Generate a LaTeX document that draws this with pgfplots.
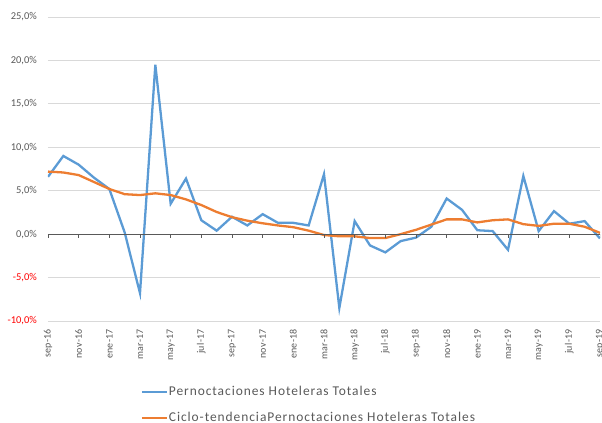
\documentclass[border=0pt]{standalone}
\usepackage{pgfplots}
\pgfplotsset{compat=1.18}
\usepackage{fontspec}
\setmainfont{Carlito}
\newfontfamily\legfont[LetterSpace=7]{Carlito}
\newfontfamily\tickfont[LetterSpace=3]{Carlito}
\definecolor{cblue}{HTML}{5B9BD5}
\definecolor{corange}{HTML}{ED7D31}
\definecolor{tickgray}{HTML}{595959}
\definecolor{gridgray}{HTML}{D9D9D9}
\definecolor{negred}{HTML}{FF0000}

\pgfplotstableread{
i serie tend
0  6.6  7.2
1  9.0  7.1
2  8.0  6.8
3  6.5  6.0
4  5.2  5.2
5  0.2  4.6
6  -6.8 4.5
7  19.5 4.7
8  3.5  4.5
9  6.4  4.0
10 1.6  3.35
11 0.4  2.55
12 2.0  1.95
13 1.0  1.55
14 2.3  1.25
15 1.3  1.0
16 1.3  0.8
17 1.0  0.4
18 6.9  -0.1
19 -8.5 -0.25
20 1.5  -0.25
21 -1.3 -0.45
22 -2.1 -0.45
23 -0.8 0.0
24 -0.4 0.5
25 0.85 1.1
26 4.1  1.7
27 2.8  1.7
28 0.45 1.35
29 0.35 1.6
30 -1.8 1.7
31 6.7  1.15
32 0.35 0.95
33 2.65 1.2
34 1.2  1.2
35 1.5  0.85
36 -0.5 0.15
}\datatable

\begin{document}
\begin{tikzpicture}
\begin{axis}[
  scale only axis,
  width=552bp, height=304bp,
  xmin=0, xmax=36, ymin=-10, ymax=25,
  axis line style={draw=none},
  xtick={0,2,...,36},
  xticklabels={sep-16,nov-16,ene-17,mar-17,may-17,jul-17,sep-17,nov-17,ene-18,mar-18,may-18,jul-18,sep-18,nov-18,ene-19,mar-19,may-19,jul-19,sep-19},
  ytick={-10,-5,0,5,10,15,20,25},
  yticklabels={{\textcolor{negred}{-10,0\%}},{\textcolor{negred}{-5,0\%}},{0,0\%},{5,0\%},{10,0\%},{15,0\%},{20,0\%},{25,0\%}},
  major tick length=0pt,
  ymajorgrids, grid style={gridgray, line width=0.9pt},
  xticklabel style={rotate=90, anchor=east, font=\tickfont\fontsize{10}{12}\selectfont, text=tickgray, inner sep=0pt},
  yticklabel style={anchor=east, font=\fontsize{10.5}{12}\selectfont, text=tickgray, inner sep=0pt},
  xticklabel shift=8bp,
  yticklabel shift=11bp,
  legend style={draw=none, fill=none, at={(0.162,-0.205)}, anchor=north west,
    font=\legfont\fontsize{13.5}{15}\selectfont, text=tickgray,
    row sep=13bp, nodes={inner sep=1bp}},
  legend cell align=left,
  legend image code/.code={\draw[#1] (0bp,0bp) -- (25bp,0bp);},
]
\addplot[cblue, line width=2.3pt] table[x=i, y=serie] {\datatable};
\addlegendentry{Pernoctaciones Hoteleras Totales}
\addplot[corange, line width=2.3pt] table[x=i, y=tend] {\datatable};
\addlegendentry{Ciclo-tendenciaPernoctaciones Hoteleras Totales}
\draw[tickgray, line width=0.9pt] (axis cs:0,0) -- (axis cs:36,0);
\pgfplotsinvokeforeach{0,2,...,36}{
  \draw[tickgray, line width=0.9pt] (axis cs:#1,0) -- ([yshift=-4bp]axis cs:#1,0);
}
\coordinate (bl) at (rel axis cs:0,0);
\coordinate (tr) at (rel axis cs:1,1);
\end{axis}
\pgfresetboundingbox
\path ([shift={(-48bp,-102bp)}]bl) rectangle ([shift={(2bp,17bp)}]tr);
\end{tikzpicture}
\end{document}
